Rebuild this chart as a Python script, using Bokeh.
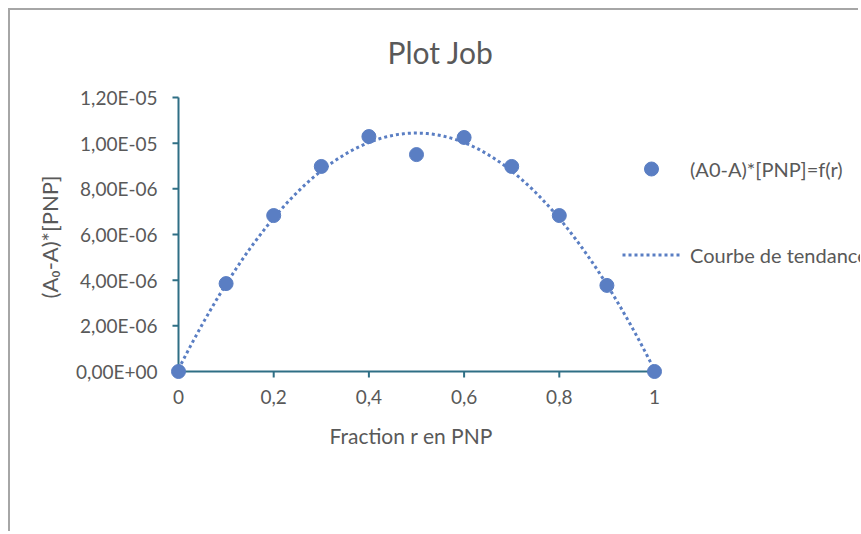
import math
import numpy as np
from bokeh.plotting import figure
from bokeh.models import (Range1d, FixedTicker, CustomJSTickFormatter, Legend,
                          LegendItem, Title)
from bokeh.embed import file_html
from bokeh.resources import INLINE

# ---- data ----
r_values = [0.0, 0.1, 0.2, 0.3, 0.4, 0.5, 0.6, 0.7, 0.8, 0.9, 1.0]
y_values = [0.0, 3.85e-6, 6.83e-6, 8.98e-6, 1.029e-5, 9.5e-6, 1.025e-5,
            8.98e-6, 6.83e-6, 3.77e-6, 0.0]
x_ticks = [0, 0.2, 0.4, 0.6, 0.8, 1]
y_ticks = [0, 2e-6, 4e-6, 6e-6, 8e-6, 1e-5, 1.2e-5]
title_text = "Plot Job"
x_label = "Fraction r en PNP"
y_label = "(A\u2080-A)*[PNP]"
series_label = "(A0-A)*[PNP]=f(r)"
trend_label = "Courbe de tendance"

# polynomial (order 2) trend line, as Excel does
coef = np.polyfit(r_values, y_values, 2)
r_fit = np.linspace(x_ticks[0], x_ticks[-1], 200)
y_fit = np.polyval(coef, r_fit)

FONT = "Lato"
GREY = "#595959"
AXIS = "#2f6f85"
BLUE = "#5a7ec3"

# ---- layout (canvas pixels) ----
W, H = 850, 523
PX_X = 476.0                 # px per unit of r
PX_Y = 274.0 / 1.2e-5        # px per unit of y
X0 = 168                     # canvas x of r = 0
FL, FR = 160, W              # frame left / right
FT, FB = 84, 369             # frame top / bottom
Y0 = 361                     # canvas y of value 0
YT = 87                      # canvas y of 1.2e-5

x_range = Range1d((FL - X0) / PX_X, (FR - X0) / PX_X)
y_range = Range1d(-(FB - Y0) / PX_Y, y_ticks[-1] + (YT - FT) / PX_Y)

p = figure(width=W, height=H, output_backend="svg", toolbar_location=None,
           x_range=x_range, y_range=y_range,
           min_border_left=FL, min_border_right=W - FR,
           min_border_top=FT, min_border_bottom=H - FB,
           background_fill_color="white", border_fill_color="white",
           styles={"margin-left": "8px", "margin-top": "8px",
                   "border-left": "2px solid #a6a6a6",
                   "border-top": "2px solid #a6a6a6"})
p.outline_line_color = None
p.grid.visible = False

p.add_layout(Title(text=title_text, align="left", offset=217,
                   vertical_align="top",
                   text_font=FONT, text_font_size="30px",
                   text_font_style="normal", text_color=GREY,
                   standoff=45), "above")

# axis lines and ticks drawn at the data origin
p.segment(x0=[x_ticks[0], x_ticks[0]], y0=[y_ticks[0], y_ticks[0]],
          x1=[x_ticks[-1], x_ticks[0]], y1=[y_ticks[0], y_ticks[-1]],
          line_color=AXIS, line_width=2)
p.ray(x=x_ticks, y=[y_ticks[0]] * len(x_ticks), length=6,
      length_units="screen", angle=-math.pi / 2, line_color=AXIS,
      line_width=2)
p.ray(x=[x_ticks[0]] * len(y_ticks), y=y_ticks, length=6,
      length_units="screen", angle=math.pi, line_color=AXIS, line_width=2)

trend = p.line(r_fit, y_fit, line_color=BLUE, line_width=3,
               line_dash="3 3", line_cap="butt")
pts = p.scatter(r_values, y_values, size=14, fill_color=BLUE,
                line_color=BLUE)

# axes (labels only; lines drawn above)
xa = p.xaxis[0]
ya = p.yaxis[0]
for ax in (xa, ya):
    ax.axis_line_color = None
    ax.major_tick_line_color = None
    ax.major_tick_in = 0
    ax.major_tick_out = 0
    ax.minor_tick_line_color = None
    ax.major_label_text_font = FONT
    ax.major_label_text_font_size = "19px"
    ax.major_label_text_color = GREY
    ax.axis_label_text_font = FONT
    ax.axis_label_text_font_size = "22px"
    ax.axis_label_text_font_style = "normal"
    ax.axis_label_text_color = GREY

xa.ticker = FixedTicker(ticks=x_ticks)
ya.ticker = FixedTicker(ticks=y_ticks)
xa.formatter = CustomJSTickFormatter(
    code="return parseFloat(tick.toFixed(1)).toString().replace('.', ',');")
ya.formatter = CustomJSTickFormatter(code="""
const s = tick.toExponential(2).replace('.', ',');
const parts = s.split('e');
const n = parseInt(parts[1]);
const a = Math.abs(n);
return parts[0] + 'E' + (n < 0 ? '-' : '+') + (a < 10 ? '0' + a : '' + a);
""")
xa.major_label_standoff = 10
ya.major_label_standoff = 13
ya.axis_label = y_label
ya.axis_label_standoff = 10

p.add_layout(Title(text=x_label, align="left", offset=159,
                   text_font=FONT, text_font_size="21px",
                   text_font_style="normal", text_color=GREY,
                   standoff=28), "below")

legend = Legend(items=[LegendItem(label=series_label, renderers=[pts]),
                       LegendItem(label=trend_label, renderers=[trend])],
                location=(452, 107), orientation="vertical",
                border_line_color=None, background_fill_alpha=0,
                label_text_font=FONT, label_text_font_size="20px",
                label_text_color=GREY, glyph_width=58, glyph_height=35,
                label_standoff=10, spacing=51, padding=0, margin=0,
                label_height=20)
p.add_layout(legend, "center")

open("out.html", "w").write(file_html(p, INLINE))
